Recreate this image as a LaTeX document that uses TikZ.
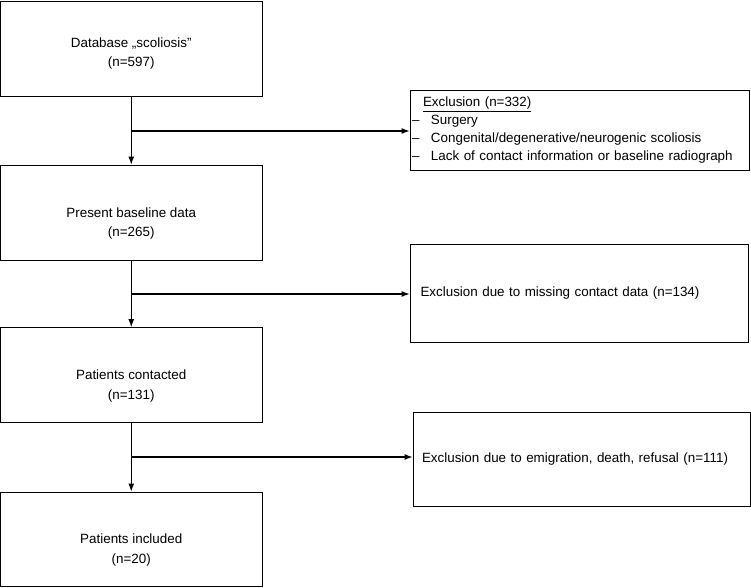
\documentclass[tikz,border=0pt]{standalone}
\usepackage{fontspec}
\setmainfont{Liberation Sans}
\usepackage{tikz}
\usetikzlibrary{arrows.meta}

% two-line text of a stage box, set a little below the middle
\newcommand{\stagetext}[3][22pt]{\parbox[c][66pt][c]{240pt}{\centering\vspace*{#1}#2\\#3}}
% one item of the exclusion list
\newcommand{\exitem}[1]{\makebox[19pt][l]{\textendash}#1}

\begin{document}
\begin{tikzpicture}[x=1pt, y=-1pt,
		stagebox/.style={draw, rectangle, line width=0.9pt, inner sep=0pt, minimum width=261.5pt, minimum height=95pt,
			font=\fontsize{13.4}{19.5}\selectfont},
		exbox/.style={draw, rectangle, line width=0.9pt, inner ysep=0pt, align=left,
			font=\fontsize{13.4}{17.7}\selectfont},
		arr/.style={line width=1.1pt, -{Latex[length=8pt,width=6pt]}}]
			\useasboundingbox (0,0) rectangle (751,587);
			% Stages
			\node[stagebox] (db) at (131.25,48.5) {\stagetext[10pt]{Database „scoliosis"}{(n=597)}};
			\node[stagebox] (base) at (131.25,212.5) {\stagetext{Present baseline data}{(n=265)}};
			\node[stagebox] (contact) at (131.25,375) {\stagetext{Patients contacted}{(n=131)}};
			\node[stagebox, minimum height=94pt] (incl) at (131.25,539) {\stagetext{Patients included}{(n=20)}};
			% Exclusions
			\node[exbox, minimum width=339pt, minimum height=80pt, inner xsep=2pt, text width=335pt] (ex1) at (579.5,130) {%
				\hspace*{11pt}\underline{Exclusion (n=332)}\\
				\exitem{Surgery}\\
				\exitem{Congenital/degenerative/neurogenic scoliosis}\\
				\exitem{Lack of contact information or baseline radiograph}};
			\node[exbox, minimum width=338pt, minimum height=98pt, inner xsep=10.5pt, text width=317pt] (ex2) at (579,293) {Exclusion due to missing contact data (n=134)};
			\node[exbox, minimum width=337pt, minimum height=94pt, inner xsep=9pt, text width=319pt] (ex3) at (581.5,459) {Exclusion due to emigration, death, refusal (n=111)};
			% Branch points
			\coordinate (j1) at (131.25,131);
			\coordinate (j2) at (131.25,294);
			\coordinate (j3) at (131.25,457);
			% Arrows
			\draw[arr] (db) -- (base);
			\draw[arr] (base) -- (contact);
			\draw[arr] (contact) -- (incl);
			\draw[arr] (j1) -- (j1 -| ex1.west);
			\draw[arr] (j2) -- (j2 -| ex2.west);
			\draw[arr] (j3) -- (j3 -| ex3.west);
		\end{tikzpicture}
\end{document}
